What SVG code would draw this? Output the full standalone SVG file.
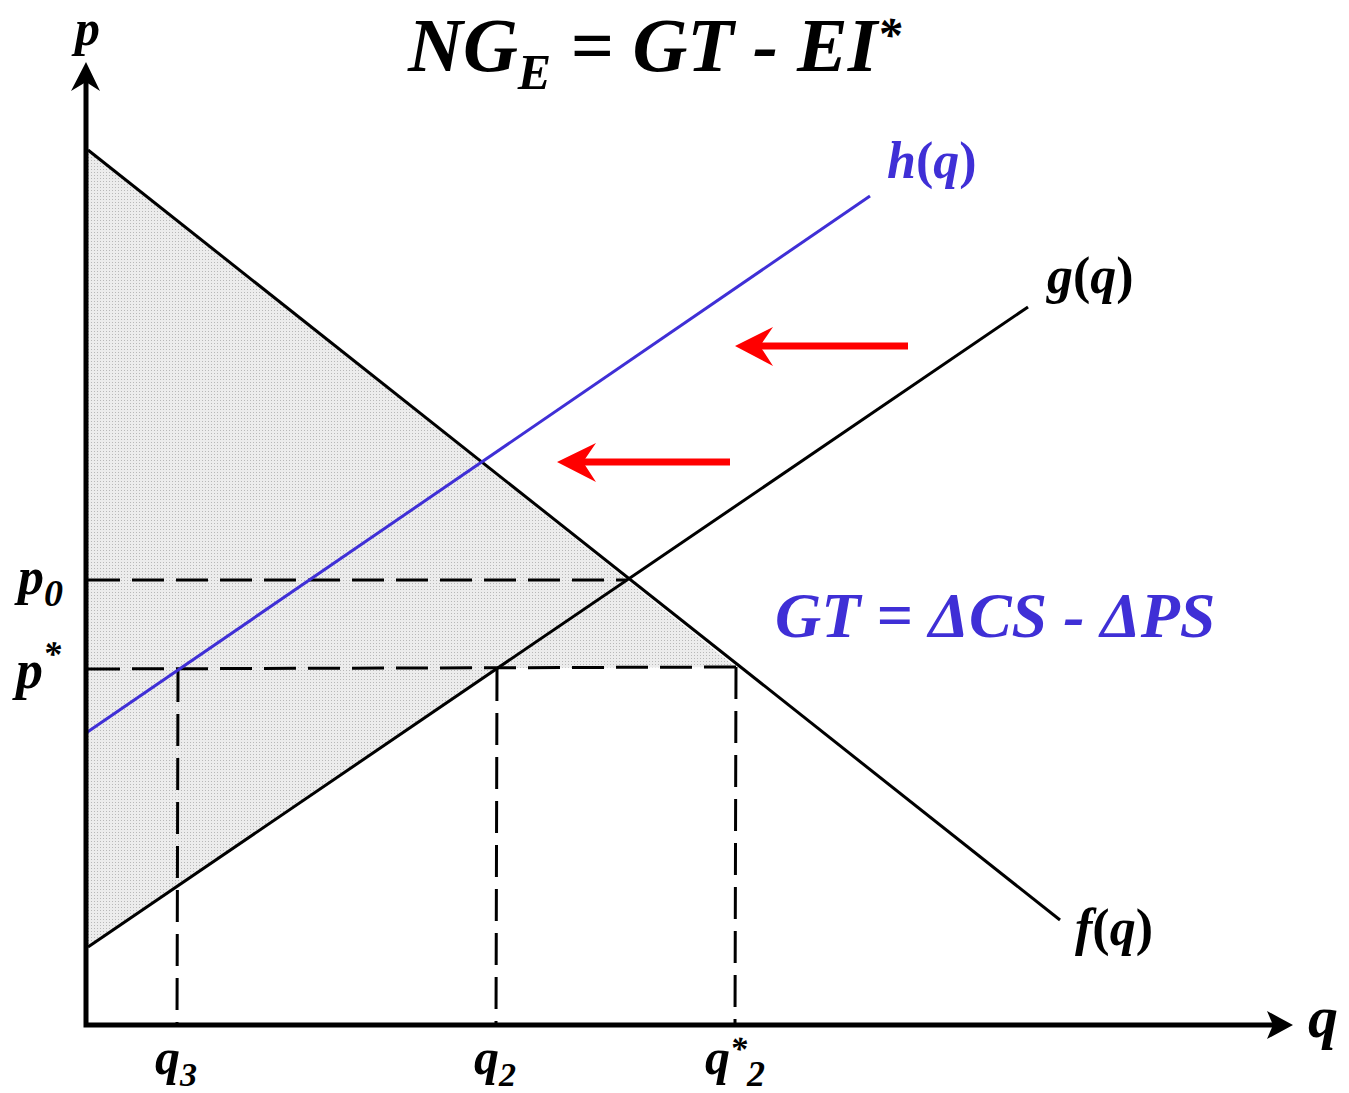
<svg xmlns="http://www.w3.org/2000/svg" width="1349" height="1093" viewBox="0 0 1349 1093">
<style>
text{font-family:"Liberation Serif","Times New Roman",serif;font-weight:bold;font-style:italic;fill:#000}
.up{font-style:normal}
.blue{fill:#3f2fd6}
.curve{fill:none;stroke:#000;stroke-width:3}
.dash{fill:none;stroke:#000;stroke-width:3;stroke-dasharray:32 12}
.axis{fill:none;stroke:#000;stroke-width:5}
.red{fill:none;stroke:#ff0000;stroke-width:7}
</style>
<defs>
<pattern id="dots" width="3" height="3" patternUnits="userSpaceOnUse">
<rect width="3" height="3" fill="#ececec"/>
<rect x="1" y="1" width="1" height="1" fill="#b8b8b8"/>
</pattern>
</defs>
<g id="shade">
<polygon points="88,150 736,667 497,668 88,947" fill="url(#dots)"/>
</g>
<g id="connectors">
<line class="dash" x1="88" y1="580" x2="627" y2="580"/>
<line class="dash" x1="88" y1="669" x2="736" y2="667"/>
<line class="dash" x1="178" y1="670" x2="177" y2="1025"/>
<line class="dash" x1="497" y1="669" x2="496" y2="1025"/>
<line class="dash" x1="736" y1="667" x2="735" y2="1025"/>
<line id="f" class="curve" x1="88" y1="150" x2="1060" y2="920"/>
<line id="g" class="curve" x1="88" y1="947" x2="1028" y2="307"/>
<line id="h" class="curve" style="stroke:#3f2fd6" x1="86" y1="733" x2="870" y2="196"/>
<path class="axis" d="M86,78 L86,1025 L1278,1025"/>
<polygon points="86,62 100,91 86,82 71,91"/>
<polygon points="1293,1025 1267,1011 1273,1025 1267,1039"/>
<line class="red" x1="908" y1="346" x2="755" y2="346"/>
<polygon points="735,346 773,327 760,346 773,366" fill="#ff0000"/>
<line class="red" x1="730" y1="462" x2="578" y2="462"/>
<polygon points="557,462 596,443 583,462 596,482" fill="#ff0000"/>
</g>
<g id="title">
<text x="408" y="71" font-size="76">NG<tspan font-size="50" dy="18">E</tspan><tspan dy="-18"> = GT - EI</tspan><tspan font-size="48" dy="-20">*</tspan></text>
</g>
<g id="labels">
<text x="75" y="45" font-size="50">p</text>
<text x="1308" y="1037" font-size="60">q</text>
<text x="18" y="594" font-size="52">p<tspan font-size="38" dy="12">0</tspan></text>
<text x="16" y="688" font-size="54">p<tspan font-size="36" dy="-22">*</tspan></text>
<text x="155" y="1074" font-size="50">q<tspan font-size="34" dy="12">3</tspan></text>
<text x="474" y="1074" font-size="50">q<tspan font-size="34" dy="12">2</tspan></text>
<text x="705" y="1074" font-size="50">q<tspan font-size="34" dy="-14">*</tspan><tspan font-size="36" dy="26">2</tspan></text>
<text x="1075" y="945" font-size="52">f<tspan class="up">(</tspan>q<tspan class="up">)</tspan></text>
<text x="1047" y="293" font-size="52">g<tspan class="up">(</tspan>q<tspan class="up">)</tspan></text>
<text class="blue" x="887" y="178" font-size="52">h<tspan class="up">(</tspan>q<tspan class="up">)</tspan></text>
<text class="blue" x="775" y="637" font-size="64">GT = ΔCS - ΔPS</text>
</g>
</svg>
